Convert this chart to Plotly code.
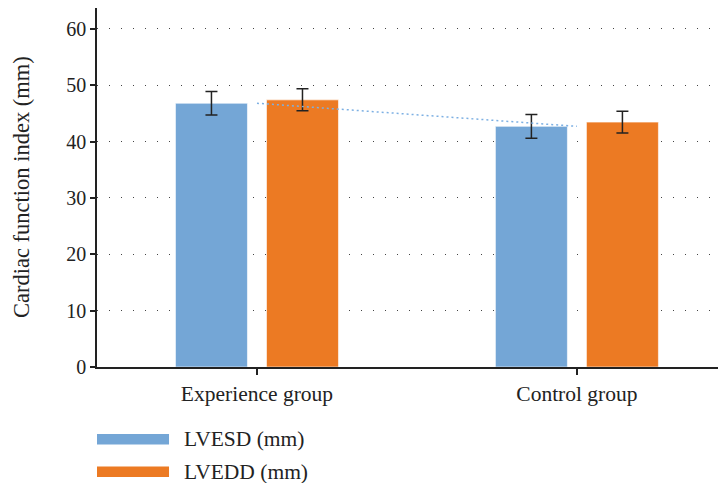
import plotly.graph_objects as go

categories = ["Experience group", "Control group"]
lvesd = [46.8, 42.7]
lvesd_err = [2.1, 2.1]
lvedd = [47.4, 43.45]
lvedd_err = [1.95, 1.95]
series_names = ["LVESD (mm)", "LVEDD (mm)"]
y_ticks = [0, 10, 20, 30, 40, 50, 60]
y_title = "Cardiac function index (mm)"

BLUE = "#74A6D6"
ORANGE = "#EC7A23"
FONT = "Liberation Serif"
TXT = "#222"

fig = go.Figure()
fig.add_trace(go.Bar(
    x=categories, y=lvesd, name=series_names[0],
    marker=dict(color=BLUE, line=dict(color="rgba(255,255,255,0.6)", width=1)),
    error_y=dict(type="data", array=lvesd_err, color="#222", thickness=1.5, width=6),
    showlegend=False,
))
fig.add_trace(go.Bar(
    x=categories, y=lvedd, name=series_names[1],
    marker=dict(color=ORANGE, line=dict(color="rgba(255,255,255,0.6)", width=1)),
    error_y=dict(type="data", array=lvedd_err, color="#222", thickness=1.5, width=6),
    showlegend=False,
))
# trend line connecting LVESD values
fig.add_trace(go.Scatter(
    x=categories, y=lvesd, mode="lines",
    line=dict(color="#7DB0E3", width=1.5, dash="2px,3px"),
    showlegend=False, hoverinfo="skip",
))

# manual legend (wide swatches)
legend_rows = [(-0.2014, BLUE, series_names[0]), (-0.2916, ORANGE, series_names[1])]
shapes = []
annotations = []
for yc, col, txt in legend_rows:
    shapes.append(dict(type="rect", xref="paper", yref="paper",
                       x0=0.0, x1=0.1145, y0=yc - 0.0146, y1=yc + 0.0146,
                       fillcolor=col, line=dict(width=0)))
    annotations.append(dict(xref="paper", yref="paper", x=0.1351, y=yc,
                            xanchor="left", yanchor="middle", showarrow=False,
                            text=txt, font=dict(family=FONT, size=21.5, color=TXT)))
# y-axis title
annotations.append(dict(xref="paper", yref="paper", x=-0.12, y=0.5,
                        xanchor="center", yanchor="middle", showarrow=False,
                        textangle=-90, text=y_title,
                        font=dict(family=FONT, size=22.5, color=TXT)))

fig.update_layout(
    width=718, height=475,
    margin=dict(l=89, r=0, t=0, b=116),
    paper_bgcolor="white", plot_bgcolor="white",
    barmode="group", bargap=0.431, bargroupgap=0.209,
    font=dict(family=FONT, color=TXT),
    shapes=shapes, annotations=annotations,
)
fig.update_xaxes(
    range=[-0.5, 1.466], showline=True, linecolor="#222", linewidth=1.5,
    ticks="outside", ticklen=6, tickwidth=1.5, tickcolor="#222",
    tickfont=dict(family=FONT, size=21.5, color=TXT),
    showgrid=False, zeroline=False, automargin=False,
)
fig.update_yaxes(
    range=[0, 63.7], tickvals=y_ticks, showline=True, linecolor="#222", linewidth=1.5,
    ticks="outside", ticklen=5, tickwidth=1.5, tickcolor="#222",
    tickfont=dict(family=FONT, size=20, color=TXT),
    showgrid=True, gridcolor="#444", gridwidth=1, griddash="1px,11px",
    zeroline=False, automargin=False,
)

fig.write_html("out.html")
